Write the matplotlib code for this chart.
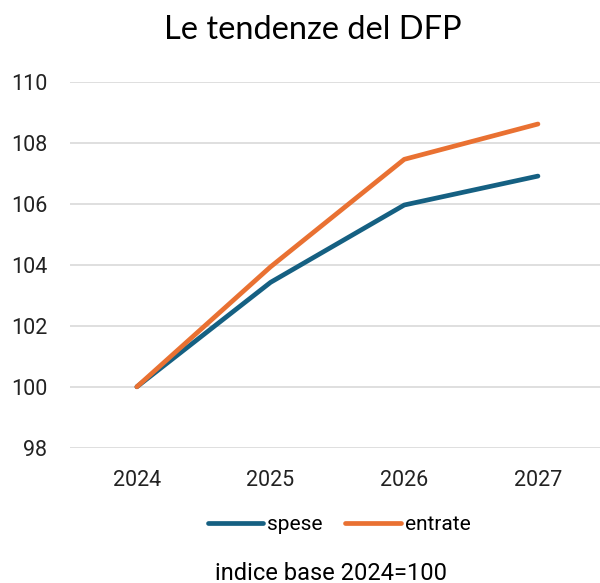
import numpy as np
from matplotlib import pyplot as plt

anni = ['2024', '2025', '2026', '2027']
spese = [100.0, 103.43, 105.97, 106.92]
entrate = [100.0, 103.94, 107.47, 108.63]
yticks = [98, 100, 102, 104, 106, 108, 110]

plt.rcParams['font.family'] = ['Roboto', 'DejaVu Sans']

fig = plt.figure(figsize=(6, 5.83), dpi=100)
ax = fig.add_axes([70/600, (583-447.7)/583, 530/600, (447.7-82.3)/583])

x = np.arange(len(anni))
ax.plot(x, spese, color='#156082', lw=3.4, solid_capstyle='round', label='spese', zorder=3)
ax.plot(x, entrate, color='#E97132', lw=3.4, solid_capstyle='round', label='entrate', zorder=4)

ax.set_xlim(-0.5, -0.5 + 530/133.7)
ax.set_ylim(98, 110)
ax.set_yticks(yticks)
ax.set_xticks(x)
ax.set_xticklabels(anni)
ax.grid(axis='y', color='#D9D9D9', lw=1.2)
ax.set_axisbelow(True)
for s in ax.spines.values():
    s.set_visible(False)
ax.tick_params(length=0, labelsize=15.5, colors='#222222')
ax.tick_params(axis='y', pad=16.5)
ax.tick_params(axis='x', pad=16)

fig.text(313/600, 1 - 30/583, 'Le tendenze del DFP', ha='center', va='center',
         fontsize=23.5, family=['Lato', 'DejaVu Sans'])
fig.legend(loc='center', bbox_to_anchor=(339/600, 1 - 525/583), ncol=2, frameon=False,
           fontsize=15, handlelength=2.65, handletextpad=0.2, columnspacing=1.1)
fig.text(331/600, 1 - 573/583, 'indice base 2024=100', ha='center', va='center', fontsize=17)

fig.savefig('out.png', dpi=100)
